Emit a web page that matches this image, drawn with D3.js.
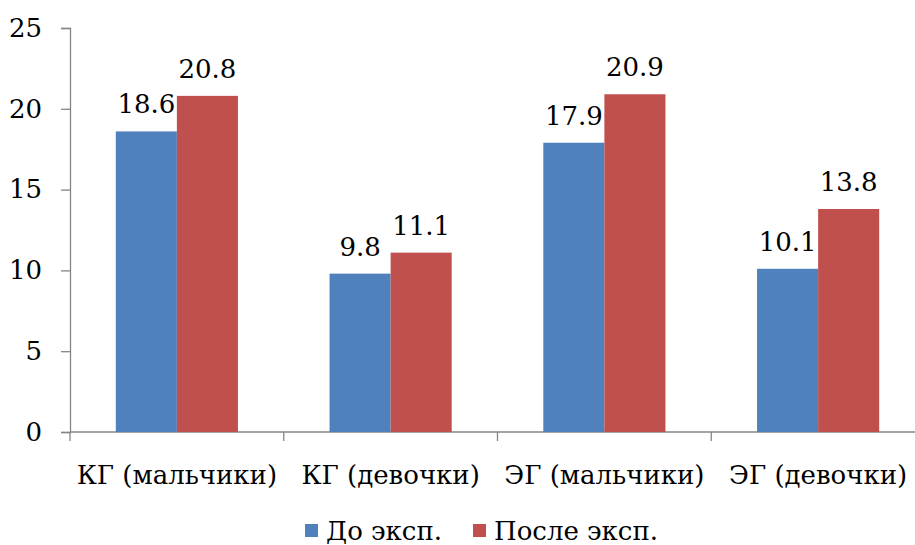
<!DOCTYPE html>
<html>
<head>
<meta charset="utf-8">
<script src="https://cdn.jsdelivr.net/npm/d3@7"></script>
<style>
  html, body { margin: 0; padding: 0; background: #fff; }
  svg { display: block; }
  #chart text { font-family: "DejaVu Serif", "Noto Serif", serif; }
</style>
</head>
<body>
<svg id="chart" width="915" height="545"></svg>
<script>
// Groups and series
const categories = ["КГ (мальчики)", "КГ (девочки)", "ЭГ (мальчики)", "ЭГ (девочки)"];
const seriesNames = ["До эксп.", "После эксп."];
const beforeValues = [18.6, 9.8, 17.9, 10.1];
const afterValues = [20.8, 11.1, 20.9, 13.8];
const yTicks = [0, 5, 10, 15, 20, 25];
const seriesColors = ["#4F81BD", "#C0504D"];

const fontSize = 26;

const svg = d3.select("#chart");

// Plot area: the category band runs past the right edge of the page
const x0 = 70, x1 = 925;
const yBottom = 432, yTop = 28;

const x = d3.scaleBand().domain(categories).range([x0, x1]).paddingInner(0).paddingOuter(0);
// The two bars sit in the centre of each category
const inner = d3.scaleBand().domain(seriesNames).range([0, x.bandwidth()]).paddingOuter(0.75).paddingInner(0);
const y = d3.scaleLinear().domain([0, 25]).range([yBottom, yTop]);

const axisColor = "#868686";

// Y axis
const yAxis = svg.append("g").attr("transform", `translate(${x0},0)`)
  .call(d3.axisLeft(y).tickValues(yTicks).tickSize(9).tickPadding(19).tickFormat(d3.format("d")));
yAxis.attr("font-family", null).attr("font-size", null);
yAxis.select(".domain").attr("stroke", axisColor).attr("stroke-width", 1.3);
yAxis.selectAll(".tick line").attr("stroke", axisColor).attr("stroke-width", 1.3);
yAxis.selectAll(".tick text").attr("font-size", fontSize).attr("fill", "#000");

// X axis with ticks at category boundaries
const xAxisG = svg.append("g");
xAxisG.append("line")
  .attr("x1", x0).attr("x2", x1).attr("y1", yBottom).attr("y2", yBottom)
  .attr("stroke", axisColor).attr("stroke-width", 1.3);
const boundaries = categories.map(c => x(c)).concat([x1]);
xAxisG.selectAll("line.tick").data(boundaries).join("line")
  .attr("class", "tick")
  .attr("x1", d => d).attr("x2", d => d)
  .attr("y1", yBottom).attr("y2", yBottom + 9)
  .attr("stroke", axisColor).attr("stroke-width", 1.3);
xAxisG.selectAll("text").data(categories).join("text")
  .attr("x", d => x(d) + x.bandwidth() / 2)
  .attr("y", 484)
  .attr("text-anchor", "middle")
  .attr("font-size", fontSize)
  .text(d => d);

// Bars
const rows = categories.map((c, i) => ({ cat: c, vals: [beforeValues[i], afterValues[i]] }));
const groups = svg.append("g").selectAll("g").data(rows).join("g")
  .attr("transform", d => `translate(${x(d.cat)},0)`);

groups.selectAll("rect").data(d => d.vals.map((v, j) => ({ v, s: seriesNames[j], j }))).join("rect")
  .attr("x", d => inner(d.s))
  .attr("width", inner.bandwidth())
  .attr("y", d => y(d.v))
  .attr("height", d => y(0) - y(d.v))
  .attr("fill", d => seriesColors[d.j]);

// Value labels
groups.selectAll("text").data(d => d.vals.map((v, j) => ({ v, s: seriesNames[j] }))).join("text")
  .attr("x", d => inner(d.s) + inner.bandwidth() / 2)
  .attr("y", d => y(d.v) - 18)
  .attr("text-anchor", "middle")
  .attr("font-size", fontSize)
  .text(d => d3.format(".1f")(d.v));

// Legend
const legend = svg.append("g");
const legendItems = [
  { name: seriesNames[0], color: seriesColors[0], x: 305 },
  { name: seriesNames[1], color: seriesColors[1], x: 473 }
];
legendItems.forEach(it => {
  legend.append("rect").attr("x", it.x).attr("y", 524).attr("width", 13).attr("height", 13).attr("fill", it.color);
  legend.append("text").attr("x", it.x + 21).attr("y", 540)
    .attr("font-size", fontSize)
    .text(it.name);
});
</script>
</body>
</html>
